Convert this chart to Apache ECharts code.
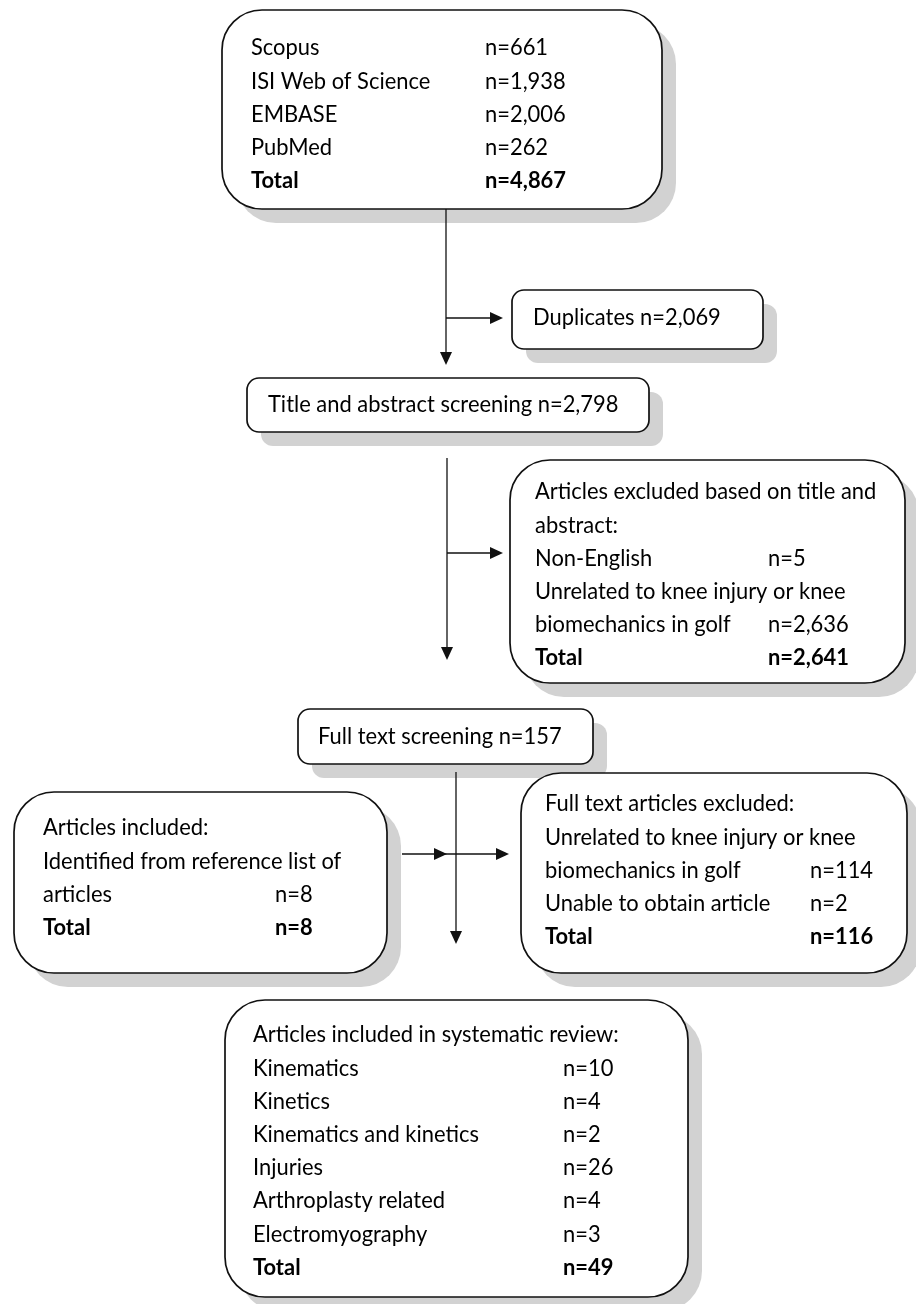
<!DOCTYPE html>
<html><head><meta charset="utf-8">
<script src="https://cdn.jsdelivr.net/npm/echarts@6/dist/echarts.min.js"></script>
<style>html,body{margin:0;padding:0;background:#fff}#c{width:916px;height:1304px}</style>
</head><body><div id="c"></div>
<script>
// ---------- data ----------
const sourceNames = ['Scopus', 'ISI Web of Science', 'EMBASE', 'PubMed'];
const sourceCounts = [661, 1938, 2006, 262];
const sourceTotal = 4867;
const duplicatesCount = 2069;
const titleAbstractCount = 2798;
const taExclHeader = ['Articles excluded based on title and', 'abstract:'];
const taExclReasons = [['Non-English'], ['Unrelated to knee injury or knee', 'biomechanics in golf']];
const taExclCounts = [5, 2636];
const taExclTotal = 2641;
const fullTextCount = 157;
const addHeader = ['Articles included:'];
const addReasons = [['Identified from reference list of', 'articles']];
const addCounts = [8];
const addTotal = 8;
const ftExclHeader = ['Full text articles excluded:'];
const ftExclReasons = [['Unrelated to knee injury or knee', 'biomechanics in golf'], ['Unable to obtain article']];
const ftExclCounts = [114, 2];
const ftExclTotal = 116;
const inclHeader = ['Articles included in systematic review:'];
const inclCategories = ['Kinematics', 'Kinetics', 'Kinematics and kinetics', 'Injuries', 'Arthroplasty related', 'Electromyography'];
const inclCounts = [10, 4, 2, 26, 4, 3];
const inclTotal = 49;

// ---------- helpers ----------
const FONT = 'Lato';
const ctx = document.createElement('canvas').getContext('2d');
ctx.font = '100px ' + FONT;
const FS = 100 * 366 / ctx.measureText('Articles included in systematic review:').width;
const fmt = v => 'n=' + v.toLocaleString('en-US');

const els = [];
const SH = 14, SHC = '#d2d2d2';
function box(x, y, w, h, r) {
  els.push({type: 'rect', z: 1, shape: {x: x + SH, y: y + SH, width: w, height: h, r}, style: {fill: SHC}});
  els.push({type: 'rect', z: 2, shape: {x, y, width: w, height: h, r}, style: {fill: '#fff', stroke: '#111', lineWidth: 1.7}});
}
function txt(x, y, s, bold) {
  els.push({type: 'text', z: 3, x, y, scaleY: 1.05, style: {text: s, fontSize: FS, fontFamily: FONT, fontWeight: bold ? 'bold' : 'normal', fill: '#000', verticalAlign: 'middle', align: 'left'}});
}
function line(x1, y1, x2, y2) {
  els.push({type: 'line', z: 2, shape: {x1, y1, x2, y2}, style: {stroke: '#111', lineWidth: 1.3}});
}
function arrowHead(x, y, dir) {
  const L = 13, W = 6;
  let pts;
  if (dir === 'down') pts = [[x, y], [x - W, y - L], [x + W, y - L]];
  else pts = [[x, y], [x - L, y - W], [x - L, y + W]];
  els.push({type: 'polygon', z: 3, shape: {points: pts}, style: {fill: '#111'}});
}
// rows: array of [label, value|null, bold]
function rows(x, vx, y0, dy, list) {
  list.forEach((r, i) => {
    txt(x, y0 + i * dy, r[0], r[2]);
    if (r[1] != null) txt(vx, y0 + i * dy, fmt(r[1]), r[2]);
  });
}
function reasonRows(header, reasons, counts, total) {
  const out = header.map(h => [h, null, false]);
  reasons.forEach((lines, i) => lines.forEach((l, j) => out.push([l, j === lines.length - 1 ? counts[i] : null, false])));
  out.push(['Total', total, true]);
  return out;
}

// ---------- boxes ----------
const DY = 33.2;
box(222, 10, 440, 199, 40);
rows(251, 485, 48, DY, sourceNames.map((n, i) => [n, sourceCounts[i], false]).concat([['Total', sourceTotal, true]]));

box(512, 290, 251, 59, 12);
txt(533, 318, 'Duplicates ' + fmt(duplicatesCount));

box(247, 378, 402, 54, 12);
txt(268, 405, 'Title and abstract screening ' + fmt(titleAbstractCount));

box(510, 460, 395, 223, 40);
rows(535, 768, 492, DY, reasonRows(taExclHeader, taExclReasons, taExclCounts, taExclTotal));

box(298, 709, 295, 55, 12);
txt(318, 737, 'Full text screening ' + fmt(fullTextCount));

box(14, 792, 373, 181, 40);
rows(43, 275, 828, DY, reasonRows(addHeader, addReasons, addCounts, addTotal));

box(521, 773, 386, 200, 40);
rows(545, 810, 804, DY, reasonRows(ftExclHeader, ftExclReasons, ftExclCounts, ftExclTotal));

box(225, 1000, 463, 297, 40);
rows(253, 563, 1035, DY, inclHeader.map(h => [h, null, false]).concat(inclCategories.map((c, i) => [c, inclCounts[i], false])).concat([['Total', inclTotal, true]]));

// ---------- connectors ----------
line(446, 209, 446, 360); arrowHead(446, 365, 'down');
line(446, 318, 498, 318); arrowHead(503, 318, 'right');
line(447, 458, 447, 655); arrowHead(447, 660, 'down');
line(447, 553, 498, 553); arrowHead(503, 553, 'right');
line(456, 772, 456, 939); arrowHead(456, 944, 'down');
line(402, 854, 504, 854); arrowHead(447, 854, 'right'); arrowHead(509, 854, 'right');

const chart = echarts.init(document.getElementById('c'), null, {renderer: 'canvas'});
chart.setOption({backgroundColor: '#fff', animation: false, graphic: {elements: els}});
</script></body></html>
